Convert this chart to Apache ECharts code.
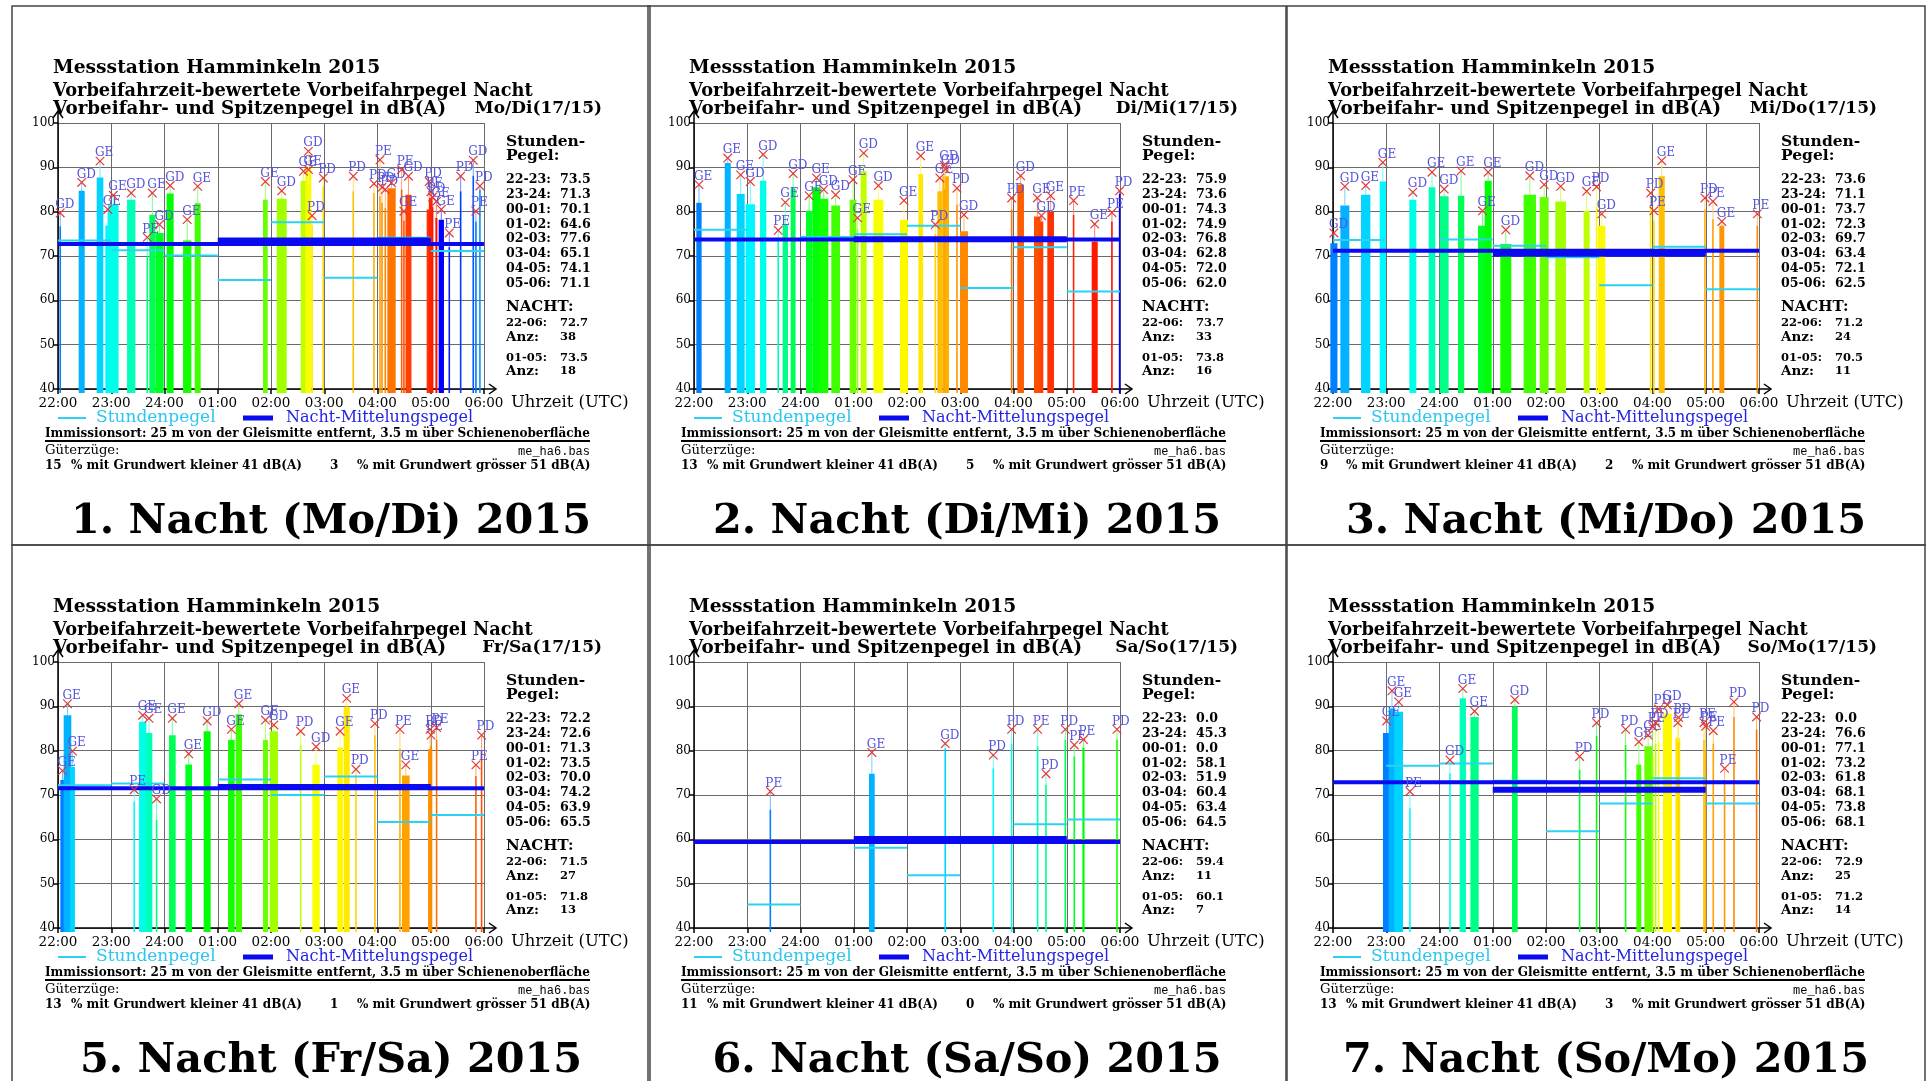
<!DOCTYPE html>
<html><head><meta charset="utf-8">
<script src="https://cdn.jsdelivr.net/npm/echarts@6/dist/echarts.min.js"></script>
<style>html,body{margin:0;padding:0;background:#fff}#c{width:1927px;height:1081px}</style>
</head><body><div id="c"></div><script>
// ---------------- DATA ----------------
const stationTitle = 'Messstation Hamminkeln 2015';
const subTitle1 = 'Vorbeifahrzeit-bewertete Vorbeifahrpegel Nacht';
const subTitle2 = 'Vorbeifahr- und Spitzenpegel in dB(A)';
const panelTitles = ['1. Nacht (Mo/Di) 2015','2. Nacht (Di/Mi) 2015','3. Nacht (Mi/Do) 2015','5. Nacht (Fr/Sa) 2015','6. Nacht (Sa/So) 2015','7. Nacht (So/Mo) 2015'];
const dayTags = ['Mo/Di(17/15)','Di/Mi(17/15)','Mi/Do(17/15)','Fr/Sa(17/15)','Sa/So(17/15)','So/Mo(17/15)'];
const hourLabels = ['22:00','23:00','24:00','01:00','02:00','03:00','04:00','05:00','06:00'];
const hourSpans = ['22-23','23-24','00-01','01-02','02-03','03-04','04-05','05-06'];

const hourly1 = [73.5,71.3,70.1,64.6,77.6,65.1,74.1,71.1];
const hourly2 = [75.9,73.6,74.3,74.9,76.8,62.8,72.0,62.0];
const hourly3 = [73.6,71.1,73.7,72.3,69.7,63.4,72.1,62.5];
const hourly5 = [72.2,72.6,71.3,73.5,70.0,74.2,63.9,65.5];
const hourly6 = [0.0,45.3,0.0,58.1,51.9,60.4,63.4,64.5];
const hourly7 = [0.0,76.6,77.1,73.2,61.8,68.1,73.8,68.1];

const nightAvg   = [72.7,73.7,71.2,71.5,59.4,72.9];
const nightCount = [38,33,24,27,11,25];
const coreAvg    = [73.5,73.8,70.5,71.8,60.1,71.2];
const coreCount  = [18,16,11,13,7,14];
const freightLow  = [15,13,9,13,11,13];
const freightHigh = [3,5,2,1,0,3];

// trains: [start (min after 22:00), duration (min), pass-by level dB(A), peak level dB(A), type]
const trains1 = [
 [2.2,0.6,76.7,79.7,'GD'],[23.3,6.8,84.7,86.6,'GD'],[43.6,7.5,87.7,91.4,'GE'],[53.3,5.6,76.9,80.5,'GE'],
 [56.3,12.0,81.6,83.7,'GE'],[77.8,9.4,82.7,84.2,'GD'],[100.3,0.6,69.9,74.2,'PE'],[102.9,6.8,79.3,84.2,'GE'],
 [109.7,9.4,75.2,77.1,'GD'],[122.4,7.9,84.1,85.9,'GD'],[140.9,9.4,73.5,78.2,'GE'],[154.0,6.8,81.9,85.7,'GE'],
 [231.0,5.3,82.7,86.8,'GE'],[246.4,11.3,82.9,84.7,'GD'],[273.4,6.4,87.0,89.1,'GE'],[278.7,6.8,89.8,93.6,'GD'],
 [282.0,0.6,86.0,89.5,'GE'],[286.0,0.6,77.0,79.1,'PD'],[298.6,0.6,85.7,87.6,'PD'],[332.4,0.6,84.6,88.0,'PD'],
 [355.7,0.6,84.2,86.3,'PD'],[362.5,0.6,83.5,91.7,'PE'],[364.8,0.6,82.0,85.5,'PD'],[368.5,0.6,80.8,85.0,'PD'],
 [371.1,9.4,85.3,86.5,'GD'],[386.9,0.6,85.0,89.5,'PE'],[389.5,0.6,78.0,80.1,'GE'],[391.5,6.8,83.8,88.0,'GD'],
 [415.4,5.6,80.5,86.8,'PD'],[418.0,4.5,83.1,84.5,'PE'],[421.8,0.6,81.0,83.3,'PD'],[425.2,2.3,78.6,82.3,'GE'],
 [428.9,6.0,78.2,80.5,'GE'],[440.6,0.6,72.0,75.2,'PE'],[453.4,0.6,84.6,88.0,'PD'],[467.6,0.6,88.1,91.6,'GD'],
 [470.6,0.6,77.8,80.1,'PE'],[475.1,0.6,85.0,85.8,'PD']
];
const trains2 = [
 [2.6,6.0,82.0,86.1,'GE'],[34.6,6.8,91.0,92.1,'GE'],[48.1,9.0,84.0,88.3,'GE'],[58.2,10.5,81.7,86.8,'GD'],
 [74.4,7.1,87.0,92.9,'GD'],[94.6,0.6,74.0,75.8,'PE'],[99.9,6.0,77.2,82.1,'GE'],[108.9,5.6,85.3,88.6,'GD'],
 [126.2,7.1,80.2,83.6,'GE'],[133.3,9.4,85.5,87.6,'GE'],[140.9,10.5,82.9,85.0,'GD'],[154.7,9.8,81.4,83.8,'GD'],
 [175.4,7.5,82.7,87.2,'GE'],[184.0,0.6,76.0,78.6,'GE'],[187.8,6.8,89.1,93.2,'GD'],[202.1,11.3,82.7,85.9,'GD'],
 [232.1,9.0,78.2,82.5,'GE'],[252.8,5.3,88.5,92.6,'GE'],[271.6,0.6,75.0,77.1,'PD'],[274.2,5.6,84.6,87.6,'GE'],
 [279.8,7.5,88.0,89.6,'GD'],[281.7,0.6,85.0,90.5,'GD'],[296.0,0.6,81.6,85.3,'PD'],[299.7,9.0,75.6,79.3,'GD'],
 [357.6,0.6,80.5,83.1,'PD'],[364.3,7.5,86.1,88.1,'GD'],[383.1,7.5,78.9,83.1,'GE'],[389.5,4.1,77.8,79.1,'GD'],
 [398.1,7.5,79.9,83.6,'GE'],[427.4,0.6,79.3,82.5,'PE'],[448.1,6.8,73.2,77.2,'GE'],[470.6,0.6,77.8,79.8,'PE'],
 [479.3,0.6,84.0,84.7,'PD']
];
const trains3 = [
 [-3.0,8.0,72.9,75.2,'GD'],[8.3,10.1,81.4,85.7,'GD'],[31.6,10.5,83.8,85.9,'GE'],[52.6,7.1,86.8,91.1,'GE'],
 [86.0,7.9,82.7,84.4,'GD'],[107.8,7.5,85.5,88.9,'GE'],[120.2,10.1,83.5,85.1,'GD'],[140.8,7.1,83.6,89.2,'GE'],
 [163.4,10.1,76.8,80.2,'GE'],[170.9,7.9,87.0,88.9,'GE'],[188.5,12.4,72.7,75.9,'GD'],[214.8,13.9,83.8,88.1,'GD'],
 [232.9,10.1,83.3,86.1,'GD'],[250.5,12.0,82.3,85.7,'GD'],[282.4,6.8,80.2,84.6,'GE'],[296.7,0.6,81.2,85.6,'PD'],
 [298.6,8.3,76.8,79.5,'GD'],[357.6,0.6,81.2,84.2,'PD'],[361.3,0.6,78.0,80.2,'PE'],[367.0,6.8,88.0,91.5,'GE'],
 [418.8,0.6,80.5,83.1,'PD'],[427.8,0.6,78.3,82.3,'PE'],[435.3,5.6,76.8,77.8,'GE'],[477.8,0.6,76.8,79.5,'PE']
];
const trains5 = [
 [2.6,4.9,73.4,75.5,'GE'],[6.4,8.6,88.0,90.6,'GE'],[13.5,5.6,76.3,79.9,'GE'],[85.6,0.6,68.5,71.2,'PE'],
 [91.3,8.3,86.5,88.0,'GE'],[98.8,7.5,84.0,87.3,'GE'],[110.8,0.6,64.4,69.1,'GD'],[125.1,7.5,83.5,87.3,'GE'],
 [143.5,7.5,76.9,79.3,'GE'],[164.1,7.9,84.4,86.7,'GD'],[191.6,7.5,82.4,84.8,'GE'],[200.2,7.1,88.2,90.6,'GE'],
 [231.0,5.6,82.4,86.9,'GE'],[238.5,9.4,84.4,85.8,'GD'],[273.1,0.6,81.3,84.4,'PD'],[286.6,8.3,76.8,80.9,'GD'],
 [314.7,6.4,80.7,84.4,'GE'],[321.9,6.8,89.9,91.8,'GE'],[335.4,0.6,74.5,75.8,'PD'],[356.8,0.6,83.5,86.1,'PD'],
 [385.0,0.6,80.5,84.8,'PE'],[387.6,8.6,74.4,76.8,'GE'],[416.9,4.9,80.4,84.8,'PD'],[420.0,0.6,81.0,83.5,'PE'],
 [426.3,0.6,82.5,85.2,'PE'],[470.6,0.6,74.3,76.8,'PE'],[477.0,0.6,80.1,83.5,'PD']
];
const trains6 = [
 [85.6,0.8,66.7,70.8,'PE'],[197.2,6.4,74.8,79.6,'GE'],[282.8,0.6,80.5,81.6,'GD'],[336.9,0.6,76.0,79.0,'PD'],
 [357.6,0.6,81.6,84.8,'PD'],[386.9,0.6,81.0,84.8,'PE'],[396.3,0.6,72.3,74.8,'PD'],[418.1,0.6,82.5,84.8,'PD'],
 [428.2,0.6,78.7,81.3,'PE'],[437.6,2.5,80.7,82.5,'PE'],[476.3,0.6,82.5,84.8,'PD']
];
const trains7 = [
 [56.3,8.3,84.0,86.7,'GE'],[62.7,7.5,89.5,93.5,'GE'],[69.1,9.8,88.8,91.0,'GE'],[86.4,0.6,67.0,70.8,'PE'],
 [131.5,0.6,74.9,77.9,'GD'],[142.7,7.1,91.8,94.0,'GE'],[154.8,9.4,87.6,88.9,'GE'],[201.7,6.4,89.9,91.5,'GD'],
 [277.6,0.6,75.7,78.7,'PD'],[296.7,0.6,83.3,86.3,'PD'],[329.4,0.6,81.3,84.8,'PD'],[341.8,5.6,76.9,82.0,'GE'],
 [350.8,8.6,81.0,83.5,'GE'],[360.0,0.6,79.0,85.4,'PE'],[363.2,0.6,81.6,86.3,'PD'],[366.5,0.6,82.0,89.4,'PD'],
 [371.8,10.1,88.4,90.3,'GD'],[385.7,5.6,82.9,86.3,'PE'],[389.0,0.6,82.0,87.5,'PD'],[417.7,0.6,82.4,86.3,'PE'],
 [419.5,0.6,80.0,85.5,'PE'],[428.2,0.6,81.6,84.5,'PE'],[440.9,0.6,73.4,76.0,'PE'],[451.5,0.6,87.6,91.0,'PD'],
 [477.0,0.6,84.8,87.6,'PD']
];

// ---------------- LAYOUT / STYLE ----------------
const trainsAll = [trains1, trains2, trains3, trains5, trains6, trains7];
const hourlyAll = [hourly1, hourly2, hourly3, hourly5, hourly6, hourly7];
const FF = '"DejaVu Serif"';
const colX = [12, 648, 1287], rowY = [6, 545];
const PW = 638, PH = 539;
const hueStops = [[0,210],[1,198],[2,190],[3,182],[4,175],[6,152],[8,128],[10,115],[12,95],[13,82],[14,75],[15,62],[17,55],[19,45],[21,38],[23,32],[25,22],[27,15],[29,8],[31,3]];
function hueAt(i){
  if (i >= 32) return 240 - (i - 32) * 7;
  for (let k = 0; k < hueStops.length - 1; k++) {
    const a = hueStops[k], b = hueStops[k+1];
    if (i >= a[0] && i <= b[0]) return a[1] + (b[1]-a[1]) * (i - a[0]) / (b[0]-a[0]);
  }
  return 3;
}

const grids = [], xAxes = [], yAxes = [], series = [], graphics = [];
function T(x, y, text, font, fill, align){
  graphics.push({type:'text', x:x, y:y, silent:true, z:10,
    style:{text:text, font:font, fill:fill||'#000', textAlign:align||'left', align:align||'left',
           textVerticalAlign:'middle', verticalAlign:'middle'}});
}
function L(x1,y1,x2,y2,stroke,lw){
  graphics.push({type:'line', silent:true, z:10, shape:{x1,y1,x2,y2}, style:{stroke, lineWidth:lw}});
}

for (let k = 0; k < 6; k++) {
  const ox = colX[k % 3], oy = rowY[Math.floor(k / 3)];
  const trains = trainsAll[k], hourly = hourlyAll[k];
  grids.push({left: ox + 46, top: oy + 117, width: 426, height: 266, containLabel:false});
  xAxes.push({type:'value', gridIndex:k, min:0, max:480, interval:60,
    axisLine:{show:true, lineStyle:{color:'#000', width:1.5}},
    axisTick:{show:true, length:5, lineStyle:{color:'#000', width:1.5}},
    axisLabel:{formatter:v => hourLabels[Math.round(v/60)] || '', color:'#000', fontFamily:'DejaVu Serif', fontSize:13.5, margin:7},
    splitLine:{show:true, lineStyle:{color:'#6a6a6a', width:1}}});
  yAxes.push({type:'value', gridIndex:k, min:40, max:100, interval:10,
    axisLine:{show:true, lineStyle:{color:'#000', width:1.5}},
    axisTick:{show:true, length:5, lineStyle:{color:'#000', width:1.5}},
    axisLabel:{color:'#000', fontFamily:'DejaVu Serif', fontSize:12, margin:3},
    splitLine:{show:true, lineStyle:{color:'#6a6a6a', width:1}}});

  // bars + connectors
  series.push({type:'custom', xAxisIndex:k, yAxisIndex:k, z:2, silent:true, animation:false,
    data: trains.map(t => [t[0], t[2], t[1], t[3]]),
    renderItem:(params, api) => {
      const s = api.value(0), lv = api.value(1), d = api.value(2), pk = api.value(3);
      const h = hueAt(params.dataIndex);
      const pTop = api.coord([s, lv]), pBot = api.coord([s + d, 39.1]);
      let x0 = pTop[0], w = pBot[0] - pTop[0];
      if (w < 1.6) { x0 = x0 + w / 2 - 0.8; w = 1.6; }
      const cx = x0 + w / 2;
      const pPk = api.coord([s + d / 2, pk]);
      return {type:'group', children:[
        {type:'line', shape:{x1:cx, y1:pTop[1], x2:cx, y2:pPk[1]}, style:{stroke:`hsl(${h},100%,72%)`, lineWidth:1}},
        {type:'rect', shape:{x:x0, y:pTop[1], width:w, height:pBot[1]-pTop[1]}, style:{fill:`hsl(${h},100%,50%)`}}
      ]};
    }});
  // hourly levels
  series.push({type:'custom', xAxisIndex:k, yAxisIndex:k, z:3, silent:true, animation:false,
    data: hourly.map((v, i) => [i * 60, v]).filter(d => d[1] > 0),
    renderItem:(params, api) => {
      const a = api.coord([api.value(0), api.value(1)]), b = api.coord([api.value(0) + 60, api.value(1)]);
      return {type:'line', shape:{x1:a[0], y1:a[1], x2:b[0], y2:b[1]}, style:{stroke:'#2cd2f2', lineWidth:2}};
    }});
  // night levels
  series.push({type:'custom', xAxisIndex:k, yAxisIndex:k, z:4, silent:true, animation:false,
    data: [[0, nightAvg[k], 480], [180, coreAvg[k], 420]],
    renderItem:(params, api) => {
      const a = api.coord([api.value(0), api.value(1)]), b = api.coord([api.value(2), api.value(1)]);
      return {type:'line', shape:{x1:a[0], y1:a[1], x2:b[0], y2:b[1]},
        style:{stroke:'#0a0af0', lineWidth: params.dataIndex === 0 ? 4 : 6}};
    }});
  // peak markers
  series.push({type:'custom', xAxisIndex:k, yAxisIndex:k, z:5, silent:true, animation:false,
    data: trains.map(t => [t[0] + t[1] / 2, t[3]]),
    renderItem:(params, api) => {
      const p = api.coord([api.value(0), api.value(1)]);
      const cx = p[0], cy = p[1], r = 4.3;
      return {type:'group', children:[
        {type:'line', shape:{x1:cx-r, y1:cy-r, x2:cx+r, y2:cy+r}, style:{stroke:'#e23a3a', lineWidth:1.2}},
        {type:'line', shape:{x1:cx-r, y1:cy+r, x2:cx+r, y2:cy-r}, style:{stroke:'#e23a3a', lineWidth:1.2}},
        {type:'text', x:cx-5, y:cy-2, style:{text:trains[params.dataIndex][4], font:'12px ' + FF, fill:'#5454dc',
          textAlign:'left', align:'left', textVerticalAlign:'bottom', verticalAlign:'bottom'}}
      ]};
    }});
  // axis arrows
  series.push({type:'custom', xAxisIndex:k, yAxisIndex:k, z:6, silent:true, animation:false,
    data: [[0, 40]],
    renderItem:(params, api) => {
      const o = api.coord([480, 40]), t = api.coord([0, 100]);
      const ex = o[0] + 12, ty = t[1] - 12;
      const st = {stroke:'#000', lineWidth:1.5, fill:'none'};
      return {type:'group', children:[
        {type:'line', shape:{x1:o[0], y1:o[1], x2:ex, y2:o[1]}, style:st},
        {type:'polyline', shape:{points:[[ex-7,o[1]-5],[ex,o[1]],[ex-7,o[1]+5]]}, style:st},
        {type:'line', shape:{x1:t[0], y1:t[1], x2:t[0], y2:ty}, style:st},
        {type:'polyline', shape:{points:[[t[0]-5,ty+7],[t[0],ty],[t[0]+5,ty+7]]}, style:st}
      ]};
    }});

  // panel frame
  graphics.push({type:'rect', silent:true, z:0, shape:{x:ox, y:oy, width:PW, height:PH}, style:{fill:'none', stroke:'#444', lineWidth:1.5}});
  // headings
  T(ox + 41, oy + 62, stationTitle, 'bold 18.7px ' + FF);
  T(ox + 41, oy + 85, subTitle1, 'bold 17.8px ' + FF);
  T(ox + 41, oy + 103, subTitle2, 'bold 18.3px ' + FF);
  T(ox + 590, oy + 103, dayTags[k], 'bold 17px ' + FF, '#000', 'right');
  // right block
  const rx = ox + 494, vx = ox + 548;
  T(rx, oy + 136, 'Stunden-', 'bold 15.5px ' + FF);
  T(rx, oy + 150, 'Pegel:', 'bold 15.5px ' + FF);
  for (let i = 0; i < 8; i++) {
    const yy = oy + 174 + i * 14.75;
    T(rx, yy, hourSpans[i] + ':', 'bold 12.6px ' + FF);
    T(vx, yy, hourly[i].toFixed(1), 'bold 12.6px ' + FF);
  }
  T(rx, oy + 301, 'NACHT:', 'bold 15px ' + FF);
  T(rx, oy + 317, '22-06:', 'bold 11.5px ' + FF);
  T(vx, oy + 317, nightAvg[k].toFixed(1), 'bold 11.5px ' + FF);
  T(rx, oy + 331, 'Anz:', 'bold 13.5px ' + FF);
  T(vx, oy + 331, String(nightCount[k]), 'bold 11.5px ' + FF);
  T(rx, oy + 352, '01-05:', 'bold 11.5px ' + FF);
  T(vx, oy + 352, coreAvg[k].toFixed(1), 'bold 11.5px ' + FF);
  T(rx, oy + 365, 'Anz:', 'bold 13.5px ' + FF);
  T(vx, oy + 365, String(coreCount[k]), 'bold 11.5px ' + FF);
  // axis title
  T(ox + 499, oy + 397, 'Uhrzeit (UTC)', '16.4px ' + FF);
  // legend
  L(ox + 46, oy + 412, ox + 74, oy + 412, '#2cd2f2', 2);
  T(ox + 84, oy + 412, 'Stundenpegel', '17px ' + FF, '#2cc6ee');
  L(ox + 231, oy + 412, ox + 261, oy + 412, '#0a0af0', 5);
  T(ox + 274, oy + 412, 'Nacht-Mittelungspegel', '16px ' + FF, '#2424e6');
  // footer
  T(ox + 33, oy + 428, 'Immissionsort: 25 m von der Gleismitte entfernt, 3.5 m über Schienenoberfläche', 'bold 12px ' + FF);
  L(ox + 33, oy + 435, ox + 578, oy + 435, '#000', 2);
  T(ox + 33, oy + 445, 'Güterzüge:', '13.2px ' + FF);
  T(ox + 578, oy + 446, 'me_ha6.bas', '12px "Liberation Mono"', '#000', 'right');
  T(ox + 33, oy + 460, String(freightLow[k]), 'bold 12px ' + FF);
  T(ox + 59, oy + 460, '% mit Grundwert kleiner 41 dB(A)', 'bold 12px ' + FF);
  T(ox + 318, oy + 460, String(freightHigh[k]), 'bold 12px ' + FF);
  T(ox + 345, oy + 460, '% mit Grundwert grösser 51 dB(A)', 'bold 12px ' + FF);
  // big panel title
  T(ox + PW / 2, oy + 516, panelTitles[k], 'bold 41.4px ' + FF, '#000', 'center');
}

const chart = echarts.init(document.getElementById('c'), null, {renderer:'canvas'});
chart.setOption({
  animation:false, backgroundColor:'#fff',
  grid:grids, xAxis:xAxes, yAxis:yAxes, series:series, graphic:{elements:graphics}
});
</script></body></html>
